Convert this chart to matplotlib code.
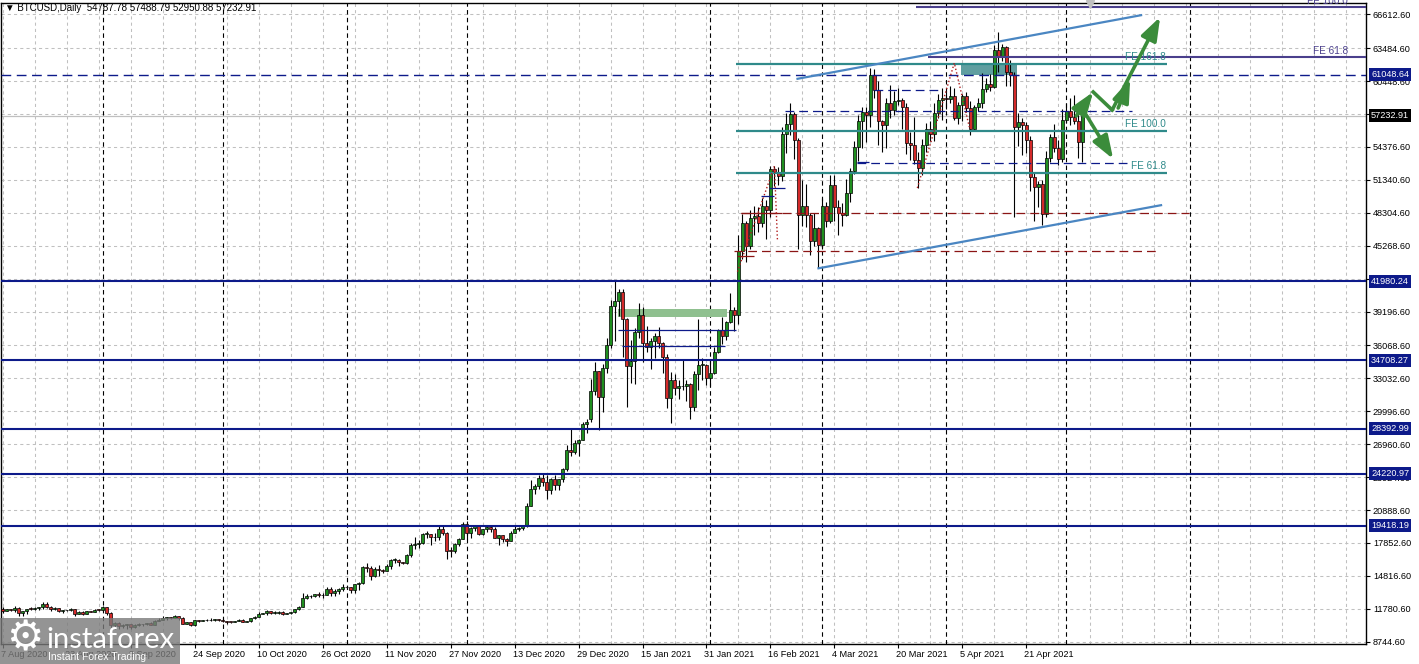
import numpy as np
import pandas as pd
import matplotlib
matplotlib.use('Agg')
import matplotlib.pyplot as plt
import matplotlib.transforms as mtransforms
from matplotlib.patches import Rectangle

plt.rcParams['font.family'] = ['Liberation Sans', 'DejaVu Sans']

# ---- BTCUSD daily bars, 7 Aug 2020 .. 5 May 2021 (no bar on 1 Jan 2021) ----
opens = [
    # Aug
    11780, 11600, 11760, 11680, 11890, 11390, 11560, 11780, 11770, 11860, 11910, 12250, 11990, 11760, 11860,
    11530, 11680, 11650, 11750, 11330, 11460, 11320, 11540, 11510, 11710,
    # Sep
    11680, 11970, 11410, 10250, 10510, 10170, 10280, 10370, 10130, 10240, 10360, 10400, 10440, 10330, 10680,
    10790, 10950, 10950, 10930, 11080, 10920, 10420, 10530, 10240, 10740, 10690, 10730, 10770, 10710, 10840,
    # Oct
    10780, 10620, 10570, 10550, 10670, 10790, 10600, 10670, 10920, 11060, 11300, 11380, 11540, 11430, 11430,
    11500, 11320, 11360, 11480, 11740, 11920, 12820, 12970, 12930, 13110, 13030, 13070, 13640, 13270, 13460, 13560,
    # Nov
    13800, 13760, 13550, 14020, 14150, 15590, 15580, 14830, 15480, 15330, 15300, 15700, 16280, 16320, 16070,
    15960, 16720, 17650, 17800, 17820, 18680, 18720, 18420, 18370, 19160, 18740, 17150, 17140, 17720, 18180,
    # Dec
    19630, 18800, 19200, 19450, 18700, 19150, 19360, 19170, 18320, 18550, 18250, 18040, 18800, 19140, 19250,
    19430, 21300, 22800, 23140, 23860, 23480, 22740, 23780, 23240, 23730, 24710, 26440, 26250, 27040, 27360, 28840,
    # Jan
    29300, 31900, 33700, 31300, 34000, 36100, 39700, 40200, 41000, 38500, 34200, 34600, 37300, 38900, 36300,
    35900, 36500, 36900, 36300, 35000, 31200, 32900, 32100, 32300, 32300, 32500, 30400, 33400, 34300, 34300,
    # Feb
    33100, 33500, 35500, 37500, 36900, 38200, 39300, 38900, 44800, 47400, 45200, 47800, 48000, 47400, 48900,
    48600, 52300, 52100, 51700, 55600, 56500, 57400, 55000, 48100, 48900, 48100, 45700, 46900,
    # Mar
    45300, 48900, 47500, 50900, 48800, 48300, 48100, 50100, 52200, 54400, 56800, 57600, 57300, 61000, 59600,
    56800, 56400, 58400, 57800, 58600, 58700, 58100, 54700, 54600, 53200, 52400, 54600, 56000, 55600, 57500, 58700,
    # Apr
    58900, 58800, 59100, 57000, 58200, 59100, 58000, 56000, 58100, 58400, 59700, 60200, 59900, 63300, 62700,
    63600, 61300, 61000, 56200, 56700, 56400, 55000, 51600, 50700, 51000, 48200, 53400, 55300, 54300, 53300,
    # May
    56900, 57700, 57150, 56760, 54787.78,
]
highs = [
    11910, 11800, 11800, 12070, 11940, 11620, 11800, 11990, 11970, 11930, 12450, 12400, 12030, 11900, 11880,
    11690, 11700, 11820, 11760, 11530, 11590, 11550, 11580, 11720, 11770,
    12080, 11970, 11450, 10600, 10560, 10350, 10400, 10420, 10350, 10490, 10420, 10480, 10580, 10790, 10930,
    11100, 11030, 11040, 11180, 11080, 10980, 10560, 10540, 10770, 10770, 10780, 10800, 10950, 10860, 10840,
    10920, 10660, 10600, 10690, 10800, 10800, 10680, 10940, 11100, 11490, 11430, 11700, 11550, 11560, 11540,
    11540, 11400, 11500, 11800, 12000, 13200, 13180, 13020, 13160, 13340, 13240, 13760, 13830, 13630, 13680, 14080,
    13890, 13820, 14060, 14240, 15740, 15960, 15770, 15650, 15830, 15460, 15950, 16330, 16480, 16330, 16140,
    16870, 17820, 18390, 18120, 18790, 18950, 18720, 18770, 19390, 19480, 18900, 17460, 17850, 18320, 19750,
    19900, 19300, 19550, 19500, 19170, 19400, 19420, 19280, 18630, 18560, 18270, 18950, 19380, 19300, 19550,
    21550, 23700, 23250, 24150, 24280, 24100, 23800, 24100, 23780, 24770, 26860, 28350, 27380, 27400, 28990, 29300,
    33000, 34500, 33700, 34400, 36800, 40300, 42000, 41300, 41300, 38600, 36600, 37700, 40000, 39600, 37900,
    36800, 37200, 37800, 36400, 35300, 33600, 33400, 32900, 34800, 32900, 32600, 33700, 38500, 34900, 34400,
    34700, 35900, 37600, 38700, 38300, 40900, 39600, 46300, 48200, 47500, 48600, 48900, 48800, 49700, 49500,
    52600, 52600, 52500, 56200, 57500, 58400, 57600, 55200, 51300, 51000, 48300, 48300, 47000,
    49700, 49300, 51800, 51800, 49500, 49200, 51400, 52400, 54900, 57300, 58100, 58100, 61700, 61600, 60500,
    56900, 58900, 60100, 59500, 59800, 58900, 58400, 55800, 57100, 53900, 55100, 56600, 56800, 58400, 59300, 59800,
    59500, 60000, 59800, 58500, 59300, 59400, 58600, 58200, 58900, 61200, 60700, 61100, 63750, 65000, 63900,
    63700, 62400, 61300, 57500, 57000, 56700, 55400, 52100, 51200, 51300, 54000, 55600, 56500, 55000, 57900,
    58400, 58900, 59200, 57400, 57488.79,
]
lows = [
    11360, 11540, 11560, 11520, 11160, 11150, 11290, 11690, 11690, 11700, 11770, 11850, 11560, 11680, 11490,
    11380, 11530, 11610, 11140, 11260, 11170, 11290, 11450, 11480, 11600,
    11560, 11200, 10000, 9920, 9880, 10020, 9900, 9880, 10020, 10200, 10200, 10300, 10270, 10280, 10630,
    10700, 10780, 10820, 10900, 10780, 10370, 10350, 10150, 10200, 10580, 10660, 10630, 10680, 10650, 10680,
    10530, 10380, 10510, 10530, 10630, 10540, 10580, 10550, 10840, 11050, 11270, 11230, 11300, 11290, 11300,
    11220, 11300, 11340, 11410, 11680, 11900, 12720, 12740, 12900, 12910, 12800, 13060, 12960, 12990, 13130, 13420,
    13620, 13240, 13280, 13540, 14100, 15190, 14420, 14720, 14810, 15070, 15280, 15430, 15990, 15700, 15870,
    15890, 16570, 17340, 17380, 17760, 18320, 17640, 18000, 18150, 18620, 16350, 16560, 16900, 17540, 18180,
    18200, 18350, 19000, 18600, 18600, 18900, 18900, 18270, 17650, 17920, 17600, 18020, 18730, 19000, 19060,
    19300, 21250, 22350, 22800, 23100, 21900, 22360, 22700, 22700, 23450, 24520, 25900, 26100, 25900, 27340, 27950,
    29000, 31500, 28300, 29900, 33500, 35800, 36500, 38800, 35000, 30400, 32600, 32500, 36800, 34500, 35500,
    33900, 34900, 35800, 33500, 30300, 28900, 31500, 31100, 32000, 30900, 29300, 30000, 32000, 32900, 32400,
    32300, 33400, 35400, 36200, 36600, 38100, 37400, 38000, 44000, 43800, 45000, 46300, 46500, 47000, 45900,
    47900, 50800, 50900, 51200, 53800, 55500, 53300, 45000, 47100, 47000, 44400, 45200, 43200,
    45000, 47000, 47400, 47500, 46300, 47100, 48000, 49300, 51900, 53100, 54300, 54800, 56200, 58900, 54600,
    53900, 54300, 57000, 57300, 58200, 56000, 53700, 53200, 52800, 50600, 51800, 53900, 54900, 54900, 57000, 56900,
    57900, 58400, 56900, 56500, 56800, 57600, 55500, 55900, 57700, 58000, 59400, 59500, 59800, 61300, 62300,
    60000, 60000, 47900, 54500, 53600, 53800, 50300, 47500, 48800, 47200, 47900, 53000, 53900, 52700, 53000,
    56600, 56400, 56500, 53350, 52950.88,
]
closes = [
    11600, 11760, 11680, 11890, 11390, 11560, 11780, 11770, 11860, 11910, 12250, 11990, 11760, 11860, 11530,
    11680, 11650, 11750, 11330, 11460, 11320, 11540, 11510, 11710, 11680,
    11970, 11410, 10250, 10510, 10170, 10280, 10370, 10130, 10240, 10360, 10400, 10440, 10330, 10680, 10790,
    10950, 10950, 10930, 11080, 10920, 10420, 10530, 10240, 10740, 10690, 10730, 10770, 10710, 10840, 10780,
    10620, 10570, 10550, 10670, 10790, 10600, 10670, 10920, 11060, 11300, 11380, 11540, 11430, 11430, 11500,
    11320, 11360, 11480, 11740, 11920, 12820, 12970, 12930, 13110, 13030, 13070, 13640, 13270, 13460, 13560, 13800,
    13760, 13550, 14020, 14150, 15590, 15580, 14830, 15480, 15330, 15300, 15700, 16280, 16320, 16070, 15960,
    16720, 17650, 17800, 17820, 18680, 18720, 18420, 18370, 19160, 18740, 17150, 17140, 17720, 18180, 19630,
    18800, 19200, 19450, 18700, 19150, 19360, 19170, 18320, 18550, 18250, 18040, 18800, 19140, 19250, 19430,
    21300, 22800, 23140, 23860, 23480, 22740, 23780, 23240, 23730, 24710, 26440, 26250, 27040, 27360, 28840, 29000,
    31900, 33700, 31300, 34000, 36100, 39700, 40200, 41000, 38500, 34200, 34600, 37300, 38900, 36300, 35900,
    36500, 36900, 36300, 35000, 31200, 32900, 32100, 32300, 32300, 32500, 30400, 33400, 34300, 34300, 33100,
    33500, 35500, 37500, 36900, 38200, 39300, 38900, 44800, 47400, 45200, 47800, 48000, 47400, 48900, 48600,
    52300, 52100, 51700, 55600, 56500, 57400, 55000, 48100, 48900, 48100, 45700, 46900, 45300,
    48900, 47500, 50900, 48800, 48300, 48100, 50100, 52200, 54400, 56800, 57600, 57300, 61000, 59600, 56800,
    56400, 58400, 57800, 58600, 58700, 58100, 54700, 54600, 53200, 52400, 54600, 56000, 55600, 57500, 58700, 58900,
    58800, 59100, 57000, 58200, 59100, 58000, 56000, 58100, 58400, 59700, 60200, 59900, 63300, 62700, 63600,
    61300, 61000, 56200, 56700, 56400, 55000, 51600, 50700, 51000, 48200, 53400, 55300, 54300, 53300, 56900,
    57700, 57150, 56760, 54787.78, 57232.91,
]

# price scale labels as printed by the terminal
y_ticks = [8744.60, 11780.60, 14816.60, 17852.60, 20888.60, 23924.60, 26960.60, 29996.60, 33032.60,
           36068.60, 39196.60, 42232.60, 45268.60, 48304.60, 51340.60, 54376.60, 57412.60, 60448.60,
           63484.60, 66612.60]

# horizontal levels
support_levels = [41980.24, 34708.27, 28392.99, 24220.97, 19418.19]
resistance_dashed = 61048.64
bid_price = 57232.91

# fibo expansion levels: (price, bar_start, bar_end, label)
fe_teal = [(62072, 183.5, 291.3, 'FE 161.8'), (55875, 183.5, 291.3, 'FE 100.0'), (52001, 183.5, 291.3, 'FE 61.8')]
fe_purple = [(67283, 228.5, 'FE 100.0'), (62672, 231.3, 'FE 61.8')]

# trend channel (bar, price)
channel_upper = [(198.5, 60643), (285.0, 66546)]
channel_lower = [(203.75, 43165), (290.0, 49022)]

# zigzag dotted construction lines
zigzag_1 = [(183.75, 42870), (193.0, 52620), (193.75, 45790)]
zigzag_2 = [(228.75, 50590), (238.0, 62118), (241.75, 56215)]

# short/dashed horizontal marks: (price, bar_start, bar_end)
navy_dashed = [(57650, 195.75, 282.5), (59628, 218.0, 235.0), (52895, 213.75, 282.5)]
navy_solid = [(37493, 153.75, 183.5), (36017, 154.75, 180.75), (50590, 191.75, 195.75),
              (49852, 189.75, 193.0), (52990, 213.75, 216.75)]
darkred_dashed = [(48284, 184.75, 296.75), (44733, 183.0, 289.25)]
darkred_solid = [(48284, 184.75, 195.0), (44318, 183.75, 188.0)]

# zones: (bar_start, bar_end, price_lo, price_hi)
zone_green = (153.75, 181.25, 38692, 39430)
zone_teal = (239.75, 253.75, 61050, 62050)

# projected arrows (bar, price) -> (bar, price)
arrows = [((268.5, 57230), (272.75, 59444)),
          ((277.5, 57784), (289.5, 66361)),
          ((279.0, 57968), (282.0, 60643)),
          ((271.0, 57323), (277.75, 53263))]
arrow_link = [(272.75, 59444), (277.5, 57784)]

# ---- chart ----
W, H = 1419, 664
fig = plt.figure(figsize=(W / 100, H / 100), dpi=100)
ax = fig.add_axes([1 / W, 20 / H, 1365 / W, 641 / H])
ax.set_xlim(-0.5, 341.0)
ax.set_ylim(8532, 67652)

dates = pd.date_range('2020-08-07', '2021-06-30').drop(pd.Timestamp('2021-01-01'))
o, h, l, c = map(np.array, (opens, highs, lows, closes))
x = np.arange(len(c))

GRID = '#c0c0c0'
NAVY = '#0d1a8a'
TEAL = '#2f8a8a'
PURPLE = '#4a3f8c'
STEEL = '#4a86c2'
ARROW = '#3b8c3b'
DKRED = '#8b1515'

# grid
for t in y_ticks:
    ax.axhline(t, color=GRID, lw=0.75, ls=(0, (3, 3)), zorder=0.5)
for b in range(0, 341, 8):
    ax.axvline(b, color=GRID, lw=0.75, ls=(0, (3, 3)), zorder=0.5)

# month separators
for b, d in enumerate(dates[:300]):
    if d.day == 1:
        ax.axvline(b, color='black', lw=0.8, ls=(0, (4, 3)), zorder=0.8)

# bid line
ax.axhline(bid_price, color=GRID, lw=0.9, zorder=1)

# zones (behind candles)
for (b0, b1, p0, p1), col in [(zone_green, '#8fc08f'), (zone_teal, '#5f9ea0')]:
    ax.add_patch(Rectangle((b0, p0), b1 - b0, p1 - p0, fc=col, ec='none', zorder=1.2))

# candles
up = c >= o
ax.vlines(x, l, h, color='black', lw=0.8, zorder=3)
body_lo = np.minimum(o, c)
body_h = np.maximum(np.abs(c - o), 60)
ax.bar(x, body_h, bottom=body_lo, width=0.75,
       color=np.where(up, '#1f8f1f', '#d42a2a'), edgecolor='black', linewidth=0.5, zorder=4)

# levels
for p in support_levels:
    ax.axhline(p, color=NAVY, lw=1.5, zorder=5)
ax.axhline(resistance_dashed, color=NAVY, lw=1.0, ls=(0, (7, 4)), zorder=5)

for p, b0, b1, lab in fe_teal:
    ax.hlines(p, b0, b1, color=TEAL, lw=1.6, zorder=5)
    ax.text(b1 - 0.3, p + 150, lab, color=TEAL, fontsize=7.2, ha='right', va='bottom', zorder=6)
for p, b0, lab in fe_purple:
    ax.hlines(p, b0, 341, color=PURPLE, lw=1.5, zorder=5)
    ax.text(336.5, p + 120, lab, color=PURPLE, fontsize=7.2, ha='right', va='bottom', zorder=6)

for p, b0, b1 in navy_dashed:
    ax.hlines(p, b0, b1, color=NAVY, lw=0.9, ls=(0, (7, 4)), zorder=5)
for p, b0, b1 in navy_solid:
    ax.hlines(p, b0, b1, color=NAVY, lw=0.9, zorder=5)
for p, b0, b1 in darkred_dashed:
    ax.hlines(p, b0, b1, color=DKRED, lw=0.9, ls=(0, (7, 4)), zorder=5)
for p, b0, b1 in darkred_solid:
    ax.hlines(p, b0, b1, color=DKRED, lw=0.9, zorder=5)

for zz in (zigzag_1, zigzag_2):
    ax.plot(*zip(*zz), color='#b01c1c', lw=1.0, ls=':', zorder=5)

for line in (channel_upper, channel_lower):
    ax.plot(*zip(*line), color=STEEL, lw=1.6, zorder=5, solid_capstyle='butt')

ax.plot(*zip(*arrow_link), color=ARROW, lw=2.6, zorder=6)
for (s, e) in arrows:
    ax.annotate('', xy=e, xytext=s, zorder=6,
                arrowprops=dict(arrowstyle='-|>,head_length=1.4,head_width=0.5',
                                color=ARROW, lw=2.6, shrinkA=0, shrinkB=0))

# shift marker
ax.plot(272, 67560, marker='v', color=GRID, ms=6, mec=GRID, clip_on=False, zorder=6)

# axes styling
for sp in ax.spines.values():
    sp.set_color('black')
    sp.set_linewidth(1.0)
ax.yaxis.tick_right()
ax.set_yticks(y_ticks)
ax.set_yticklabels([f'{t:.2f}' for t in y_ticks])
ax.tick_params(axis='y', direction='out', length=3, width=0.8, pad=2, labelsize=6.6, colors='black')

xt = list(range(0, 257, 16))
ax.set_xticks(xt)
ax.set_xticklabels([f'{dates[b].day} {dates[b].strftime("%b %Y")}' for b in xt], ha='left')
ax.tick_params(axis='x', direction='out', length=3, width=0.8, pad=1, labelsize=6.6, colors='black')
shift = mtransforms.ScaledTranslation(-2 / 100, 0, fig.dpi_scale_trans)
for lab in ax.get_xticklabels():
    lab.set_transform(lab.get_transform() + shift)

# price boxes on the scale
trans = mtransforms.blended_transform_factory(ax.transAxes, ax.transData)
for p in support_levels + [resistance_dashed]:
    ax.text(1.0 + 5 / 1365, p, f'{p:.2f}', transform=trans, color='white', fontsize=6.6,
            ha='left', va='center', clip_on=False, zorder=10,
            bbox=dict(boxstyle='square,pad=0.22', fc=NAVY, ec='none'))
ax.text(1.0 + 5 / 1365, bid_price, f'{bid_price:.2f}', transform=trans, color='white', fontsize=6.6,
        ha='left', va='center', clip_on=False, zorder=10,
        bbox=dict(boxstyle='square,pad=0.22', fc='black', ec='none'))

# header
fig.text(5 / W, 1 - 8 / H, '\u25bc BTCUSD,Daily  54787.78 57488.79 52950.88 57232.91',
         fontsize=7, ha='left', va='center', color='black')

# watermark
fig.patches.append(Rectangle((0, 0), 180 / W, 46 / H, transform=fig.transFigure,
                             fc='#7a7a7a', alpha=0.8, ec='none', zorder=20))
fig.text(25 / W, 1 - 638 / H, '\u2699', fontsize=30, color='white', family='DejaVu Sans',
         ha='center', va='center', zorder=21)
fig.text(46 / W, 1 - 648 / H, 'instaforex', fontsize=21, color='white', family='Lato',
         ha='left', va='baseline', zorder=21)
fig.text(48 / W, 1 - 657 / H, 'Instant Forex Trading', fontsize=7.5, color='white',
         ha='left', va='center', zorder=21)

fig.savefig('out.png', dpi=100)
